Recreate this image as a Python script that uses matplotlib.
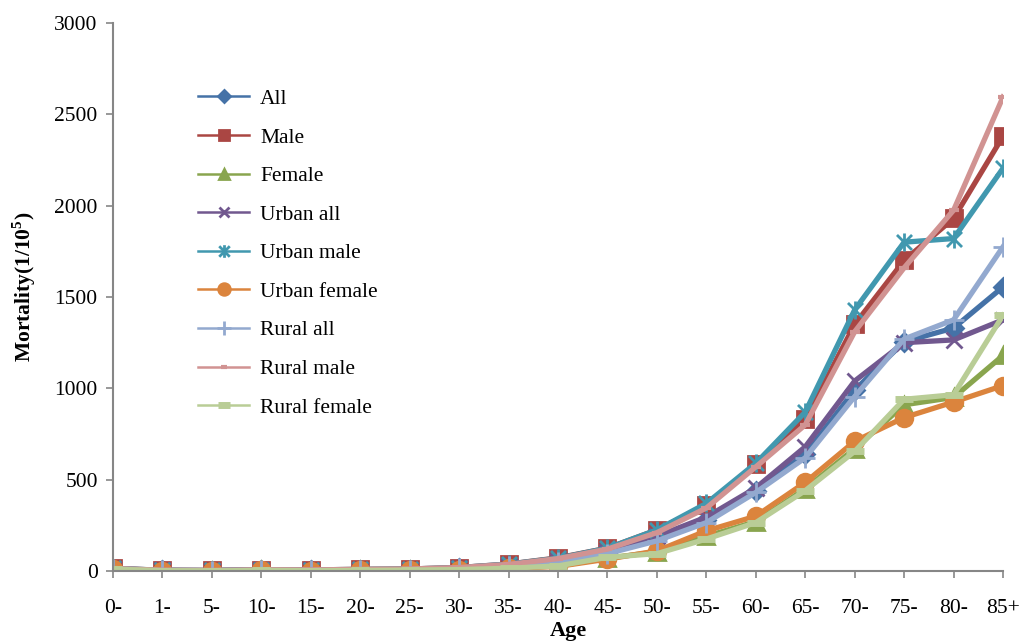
import numpy as np
import matplotlib
matplotlib.use("Agg")
import matplotlib.pyplot as plt
from matplotlib.path import Path

plt.rcParams['font.family'] = ['Liberation Serif', 'DejaVu Serif']
plt.rcParams['mathtext.fontset'] = 'custom'
plt.rcParams['mathtext.rm'] = 'Liberation Serif'
plt.rcParams['mathtext.bf'] = 'Liberation Serif:bold'

ages = ['0-', '1-', '5-', '10-', '15-', '20-', '25-', '30-', '35-', '40-',
        '45-', '50-', '55-', '60-', '65-', '70-', '75-', '80-', '85+']

all_ = [12, 3, 2, 5, 4, 6, 8, 14, 28, 50, 100, 180, 280, 440, 640, 990, 1255, 1330, 1555]
male = [14, 4, 3, 7, 6, 9, 11, 19, 38, 72, 125, 225, 360, 585, 830, 1350, 1700, 1930, 2380]
female = [10, 2, 1, 3, 2, 3, 5, 8, 16, 28, 70, 105, 190, 270, 450, 670, 910, 950, 1180]
urban_all = [12, 3, 2, 5, 4, 6, 8, 14, 28, 52, 105, 190, 295, 455, 680, 1040, 1250, 1265, 1375]
urban_male = [15, 4, 3, 7, 6, 9, 11, 19, 38, 70, 125, 225, 370, 590, 870, 1430, 1800, 1820, 2205]
urban_female = [9, 2, 1, 3, 2, 3, 5, 8, 15, 25, 65, 110, 220, 300, 485, 710, 840, 925, 1015]
rural_all = [12, 3, 2, 5, 4, 6, 8, 14, 27, 48, 95, 165, 265, 430, 620, 955, 1270, 1375, 1775]
rural_male = [14, 4, 3, 7, 6, 9, 11, 19, 36, 68, 120, 210, 345, 570, 800, 1310, 1660, 1975, 2595]
rural_female = [10, 2, 1, 3, 2, 3, 5, 8, 15, 28, 75, 95, 175, 265, 440, 655, 940, 965, 1400]

# x with a vertical bar, like the Excel star marker
star = Path([(-1, -1), (1, 1), (-1, 1), (1, -1), (0, -1.2), (0, 1.2)],
            [Path.MOVETO, Path.LINETO, Path.MOVETO, Path.LINETO, Path.MOVETO, Path.LINETO])

series = [
    ("All", all_, '#4572A7', 'D', 9),
    ("Male", male, '#AA4643', 's', 11),
    ("Female", female, '#89A54E', '^', 11),
    ("Urban all", urban_all, '#71588F', 'x', 11),
    ("Urban male", urban_male, '#4198AF', star, 13),
    ("Urban female", urban_female, '#DB843D', 'o', 12),
    ("Rural all", rural_all, '#93A9CF', '+', 14),
    ("Rural male", rural_male, '#D19392', '_', 7),
    ("Rural female", rural_female, '#B9CD96', '_', 13),
]

fig = plt.figure(figsize=(10.21, 6.42), dpi=100)
ax = fig.add_axes([0.1107, 0.1106, 0.8717, 0.8536])
x = np.arange(len(ages))

for name, vals, col, mk, ms in series:
    mew = 2.0
    if name == "Rural female":
        mew = 5
    elif name == "Rural male":
        mew = 3
    ax.plot(x, vals, color=col, lw=3.8, marker=mk, markersize=ms,
            markerfacecolor=col, markeredgecolor=col, markeredgewidth=mew,
            label=name, solid_joinstyle='round')

ax.set_xlim(0, len(ages) - 1)
ax.set_ylim(0, 3000)
ax.set_yticks(np.arange(0, 3001, 500))
ax.set_xticks(x)
ax.set_xticklabels(ages)
ax.tick_params(axis='both', direction='out', length=5, color='#868686',
               labelsize=15.5, width=1.2)
ax.tick_params(axis='x', pad=15)
ax.tick_params(axis='y', pad=6)
for s in ['top', 'right']:
    ax.spines[s].set_visible(False)
for s in ['left', 'bottom']:
    ax.spines[s].set_color('#868686')
    ax.spines[s].set_linewidth(1.5)

ax.set_xlabel('Age', fontsize=16, fontweight='bold')
ax.xaxis.set_label_coords(0.512, -0.091)
ax.set_ylabel(r'Mortality(1/10$^\mathbf{5}$)', fontsize=15.5, fontweight='bold')
ax.yaxis.set_label_coords(-0.084, 0.518)

leg = ax.legend(loc='upper left', bbox_to_anchor=(0.179, 0.885), bbox_transform=fig.transFigure,
                frameon=False, fontsize=15.5, handlelength=2.4, labelspacing=0.86,
                handletextpad=0.5, borderpad=0.2)
for h in leg.legend_handles:
    h.set_linewidth(1.8)
    h.set_markersize(h.get_markersize() * 0.7)

fig.savefig('out.png', dpi=100)
